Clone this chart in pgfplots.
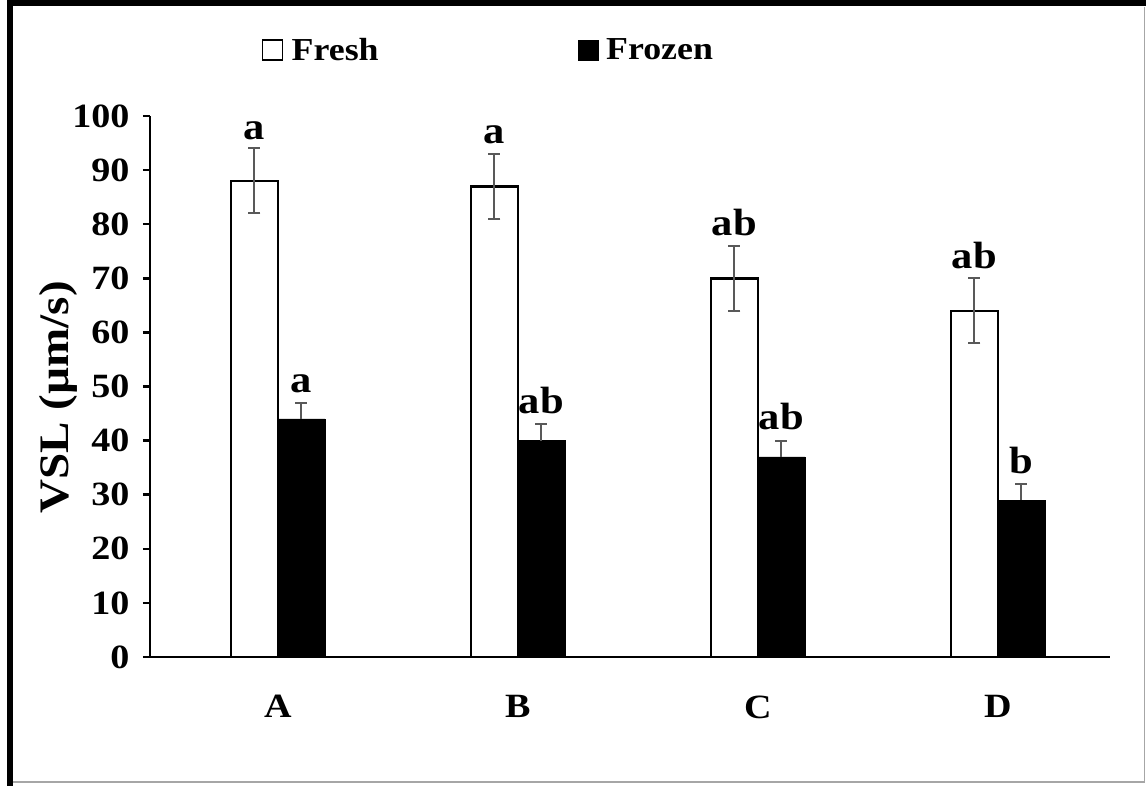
\documentclass[border=0pt]{standalone}
\usepackage{pgfplots}
\pgfplotsset{compat=1.18}
\usepackage{pgfplotstable}
\usepackage{fontspec}
\setmainfont[FakeStretch=1.12]{Liberation Serif}
\pgfplotstableread{
x fresh ferr frozen zerr
0 88 6 44 3
1 87 6 40 3
2 70 6 37 3
3 64 6 29 3
}\datatable
\begin{document}
\begin{tikzpicture}[x=1pt,y=1pt]
\useasboundingbox (0,0) rectangle (1146,786);
\fill[white] (0,0) rectangle (1146,786);
\draw[gray!70, line width=1.5pt] (13,4) -- (1144.5,4) -- (1144.5,779);
\draw[black, line width=6.5pt] (10,0) -- (10,782.75) -- (1146,782.75);
\begin{axis}[
  at={(150pt,129pt)}, anchor=south west,
  scale only axis, width=960pt, height=541pt,
  xmin=-0.533, xmax=3.467, ymin=0, ymax=100,
  axis x line=bottom, axis y line=left,
  axis line style={line width=2.5pt, -},
  x axis line style={-}, y axis line style={-},
  xtick={0,1,2,3}, xticklabels={A,B,C,D},
  xtick style={draw=none},
  ytick={0,10,...,100},
  ytick style={line width=2.5pt, black},
  tick align=outside, major tick length=7pt,
  /pgf/number format/assume math mode=true,
  ticklabel style={font=\fontsize{34}{34}\selectfont\bfseries},
  yticklabel style={xshift=-10pt},
  xticklabel style={yshift=-28pt},
  ylabel={VSL (µm/s)},
  ylabel style={font=\fontsize{42}{42}\selectfont\bfseries, at={(axis description cs:-0.095,0.48)}, anchor=center},
  legend columns=2,
  legend style={at={(axis description cs:0.116,1.122)}, anchor=west, draw=none, fill=none, inner sep=0pt,
    font=\fontsize{32}{32}\selectfont\bfseries, /tikz/every even column/.append style={column sep=196pt},
    nodes={inner sep=3pt}},
  legend cell align=left,
  ybar, bar width=0.196,
  clip=false,
]
\addplot[draw=black, fill=white, line width=2.5pt, bar shift=-0.098,
  legend image code/.code={\draw[draw=black, fill=white, line width=1.8pt] (0pt,-10pt) rectangle (20pt,10pt); \path (25pt,0pt);},
  error bars/.cd, y dir=both, y explicit,
  error bar style={line width=2pt, color=black!65},
  error mark options={rotate=90, mark size=6pt, line width=2pt, color=black!65},
  ] table[x=x, y=fresh, y error=ferr] {\datatable};
\addlegendentry{Fresh}
\addplot[draw=black, fill=black, line width=0.5pt, bar shift=0.098,
  legend image code/.code={\fill[black] (0pt,-10pt) rectangle (20pt,10pt); \path (25pt,0pt);},
  error bars/.cd, y dir=plus, y explicit,
  error bar style={line width=2pt, color=black!65},
  error mark options={rotate=90, mark size=6pt, line width=2pt, color=black!65},
  ] table[x=x, y=frozen, y error=zerr] {\datatable};
\addlegendentry{Frozen}
\begin{scope}[every node/.style={font=\fontsize{38}{38}\selectfont\bfseries, anchor=base}]
\node at (axis cs:-0.098,95.7) {a};
\node at (axis cs:0.902,94.9) {a};
\node at (axis cs:1.902,78.0) {ab};
\node at (axis cs:2.902,71.9) {ab};
\node at (axis cs:0.098,48.9) {a};
\node at (axis cs:1.098,45.1) {ab};
\node at (axis cs:2.098,42.1) {ab};
\node at (axis cs:3.098,34.0) {b};
\end{scope}
\end{axis}
\end{tikzpicture}
\end{document}
